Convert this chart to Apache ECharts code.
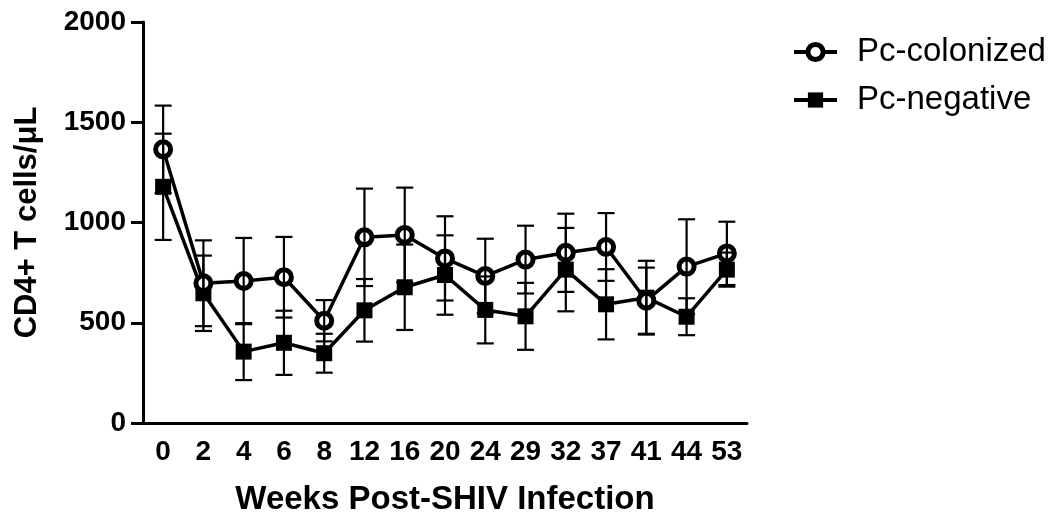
<!DOCTYPE html>
<html>
<head>
<meta charset="utf-8">
<script src="https://cdn.jsdelivr.net/npm/echarts@6/dist/echarts.min.js"></script>
<style>
html,body{margin:0;padding:0;background:#fff;}
#c{width:1050px;height:528px;}
</style>
</head>
<body>
<div id="c"></div>
<script>
const weeks = ['0','2','4','6','8','12','16','20','24','29','32','37','41','44','53'];
const colonizedMean = [1365, 697, 708, 727, 510, 926, 938, 821, 733, 815, 849, 878, 610, 780, 846];
const colonizedErr  = [218, 214, 215, 201, 103, 243, 236, 210, 186, 169, 195, 169, 165, 236, 158];
const negativeMean  = [1178, 647, 356, 400, 348, 562, 677, 738, 564, 532, 765, 592, 625, 530, 765];
const negativeErr   = [265, 188, 142, 160, 97, 156, 213, 198, 167, 167, 208, 175, 184, 92, 85];
const yTicks = [0, 500, 1000, 1500, 2000];

const FONT = '"Liberation Sans", Arial, sans-serif';

function errData(mean, err) {
  return mean.map((m, i) => [i, m - err[i], m + err[i]]);
}
function errRender(params, api) {
  const x = api.value(0);
  const lo = api.coord([x, api.value(1)]);
  const hi = api.coord([x, api.value(2)]);
  const hw = 8.5;
  const st = {stroke: '#000', lineWidth: 2.2, fill: null};
  return {
    type: 'group',
    children: [
      {type: 'line', shape: {x1: lo[0], y1: lo[1], x2: hi[0], y2: hi[1]}, style: st},
      {type: 'line', shape: {x1: lo[0] - hw, y1: lo[1], x2: lo[0] + hw, y2: lo[1]}, style: st},
      {type: 'line', shape: {x1: hi[0] - hw, y1: hi[1], x2: hi[0] + hw, y2: hi[1]}, style: st}
    ]
  };
}

const chart = echarts.init(document.getElementById('c'), null, {renderer: 'canvas'});
chart.setOption({
  animation: false,
  backgroundColor: '#fff',
  grid: {left: 143, top: 22, width: 604, height: 401, containLabel: false},
  legend: {
    orient: 'vertical',
    left: 787,
    top: 28,
    itemWidth: 43,
    itemHeight: 19,
    itemGap: 10,
    data: [
      {name: 'Pc-colonized', itemStyle: {color: '#fff', borderColor: '#000', borderWidth: 5}, lineStyle: {color: '#000', width: 4}},
      {name: 'Pc-negative', itemStyle: {color: '#000', borderColor: '#000', borderWidth: 0}, lineStyle: {color: '#000', width: 4}}
    ],
    textStyle: {fontFamily: FONT, fontSize: 33, color: '#000', lineHeight: 38, padding: [0, 0, 0, 15]}
  },
  xAxis: {
    type: 'category',
    data: weeks,
    boundaryGap: true,
    name: 'Weeks Post-SHIV Infection',
    nameLocation: 'middle',
    nameGap: 60,
    nameTextStyle: {fontFamily: FONT, fontSize: 33, fontWeight: 'bold', color: '#000'},
    axisLine: {lineStyle: {color: '#000', width: 3}},
    axisTick: {alignWithLabel: true, interval: 0, length: 11, lineStyle: {color: '#000', width: 3}},
    axisLabel: {interval: 0, hideOverlap: false, fontFamily: FONT, fontSize: 28, fontWeight: 'bold', color: '#000', margin: 15}
  },
  yAxis: {
    type: 'value',
    min: yTicks[0],
    max: yTicks[yTicks.length - 1],
    interval: 500,
    name: 'CD4+ T cells/\u03bcL',
    nameLocation: 'middle',
    nameRotate: 90,
    nameGap: 100,
    nameTextStyle: {fontFamily: FONT, fontSize: 31, fontWeight: 'bold', color: '#000'},
    axisLine: {show: true, lineStyle: {color: '#000', width: 3}},
    axisTick: {show: true, length: 12, lineStyle: {color: '#000', width: 3}},
    axisLabel: {fontFamily: FONT, fontSize: 28, fontWeight: 'bold', color: '#000', margin: 17,
      formatter: function (v) { return String(v); }},
    splitLine: {show: false}
  },
  series: [
    {
      name: 'Pc-negative',
      type: 'line',
      data: negativeMean,
      symbol: 'rect',
      symbolSize: 16,
      lineStyle: {color: '#000', width: 3.5},
      itemStyle: {color: '#000', borderColor: '#000', borderWidth: 0},
      z: 2
    },
    {
      name: 'Pc-colonized',
      type: 'line',
      data: colonizedMean,
      symbol: 'circle',
      symbolSize: 15,
      lineStyle: {color: '#000', width: 3.5},
      itemStyle: {color: '#fff', borderColor: '#000', borderWidth: 5},
      z: 3
    },
    {
      name: 'errNeg',
      type: 'custom',
      renderItem: errRender,
      data: errData(negativeMean, negativeErr),
      z: 4,
      silent: true
    },
    {
      name: 'errCol',
      type: 'custom',
      renderItem: errRender,
      data: errData(colonizedMean, colonizedErr),
      z: 4,
      silent: true
    }
  ]
});
</script>
</body>
</html>
